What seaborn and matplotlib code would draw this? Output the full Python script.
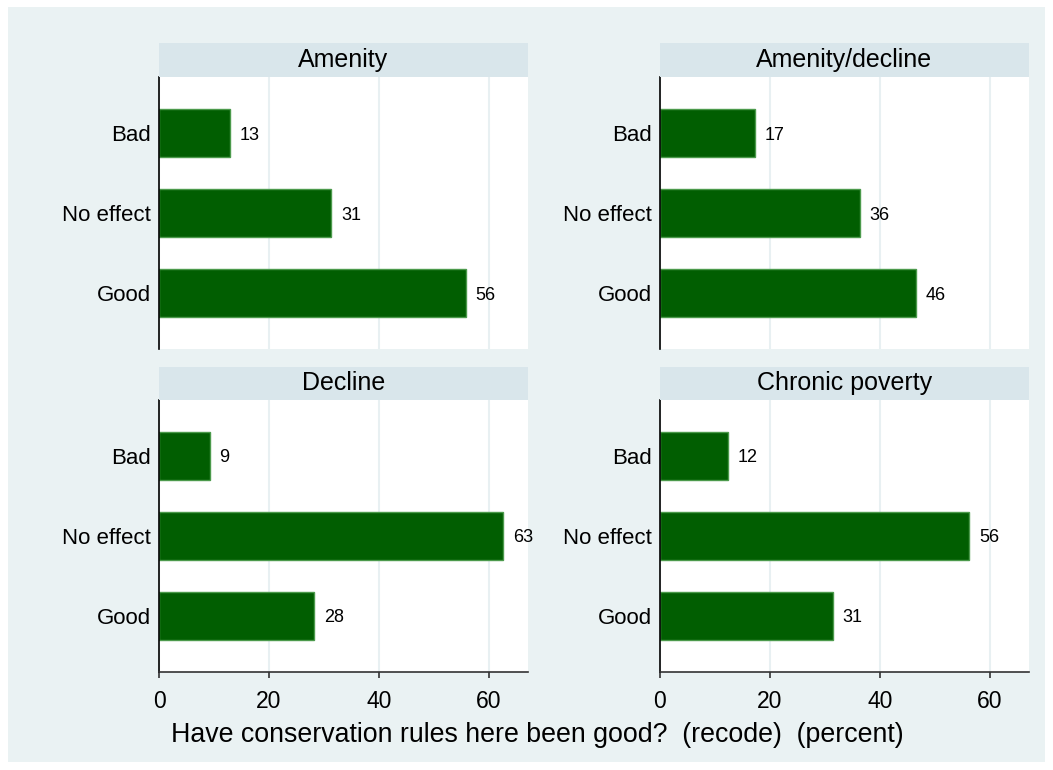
import matplotlib
matplotlib.use("Agg")
import matplotlib.pyplot as plt
import seaborn as sns
import pandas as pd
from matplotlib.patches import Rectangle

# ---- data ----
panels = ["Amenity", "Amenity/decline", "Decline", "Chronic poverty"]
responses = ["Bad", "No effect", "Good"]
amenity = [12.9, 31.3, 55.8]
amenity_decline = [17.2, 36.3, 46.5]
decline = [9.2, 62.6, 28.2]
chronic_poverty = [12.4, 56.2, 31.4]
x_ticks = [0, 20, 40, 60]
x_title = "Have conservation rules here been good?  (recode)  (percent)"

values = [amenity, amenity_decline, decline, chronic_poverty]
rows = []
for p, vals in zip(panels, values):
    for r, v in zip(responses, vals):
        rows.append({"panel": p, "response": r, "percent": v})
df = pd.DataFrame(rows)

# ---- style ----
sns.set_theme(style="white")
plt.rcParams["font.family"] = ["Liberation Sans", "DejaVu Sans"]

W, H = 1053, 770
fig = plt.figure(figsize=(W / 100, H / 100), dpi=100)
fig.patch.set_facecolor("white")
fig.patches.append(Rectangle((8 / W, 1 - 762 / H), (1045 - 8) / W, (762 - 7) / H,
                             transform=fig.transFigure, facecolor="#EAF2F3",
                             edgecolor="none", zorder=-10))

BAR = "#015E01"
EDGE = "#4C9A4C"
STRIP = "#D9E6EB"
GRID = "#E8F0F2"

col_x = [159, 660]
row_plot = [(77.3, 349.3), (400.0, 672.0)]
row_strip = [(43.3, 77.3), (366.7, 400.0)]
plot_w = 369

for i, p in enumerate(panels):
    r, c = divmod(i, 2)
    x0 = col_x[c]
    top, bot = row_plot[r]
    ax = fig.add_axes([x0 / W, 1 - bot / H, plot_w / W, (bot - top) / H])
    sub = df[df["panel"] == p]
    sns.barplot(data=sub, y="response", x="percent", orient="h", order=responses,
                color=BAR, width=0.6, ax=ax, edgecolor=EDGE, linewidth=1.0,
                saturation=1, errorbar=None)
    ax.set_facecolor("white")
    ax.set_xlim(0, plot_w / 5.5)
    ax.set_ylim(2.7, -0.7)
    ax.set_xticks(x_ticks)
    ax.grid(axis="x", color=GRID, linewidth=1.5, zorder=0)
    ax.set_axisbelow(True)
    ax.set_xlabel("")
    ax.set_ylabel("")
    for s in ["top", "right"]:
        ax.spines[s].set_visible(False)
    ax.spines["left"].set_color("black")
    ax.spines["left"].set_linewidth(1.2)
    ax.tick_params(axis="y", length=0, pad=6, labelsize=16, labelcolor="black")
    if r == 0:
        ax.spines["bottom"].set_visible(False)
        ax.tick_params(axis="x", length=0, labelbottom=False)
    else:
        ax.spines["bottom"].set_color("#333333")
        ax.spines["bottom"].set_linewidth(1.2)
        ax.tick_params(axis="x", length=4, width=1.2, color="#333333",
                       pad=9, labelsize=16.5, labelcolor="black", bottom=True)
    for cont in ax.containers:
        labels = ax.bar_label(cont, fmt="%.0f", padding=7, fontsize=13, color="black")
        for t in labels:
            t.set_va("center_baseline")

    # strip
    s_top, s_bot = row_strip[r]
    sax = fig.add_axes([x0 / W, 1 - s_bot / H, plot_w / W, (s_bot - s_top) / H])
    sax.set_facecolor(STRIP)
    for s in sax.spines.values():
        s.set_visible(False)
    sax.set_xticks([])
    sax.set_yticks([])
    sax.text(0.5, 0.5, p, ha="center", va="center", fontsize=18, color="black",
             transform=sax.transAxes)

fig.text(537 / W, 1 - 735 / H, x_title, ha="center", va="center",
         fontsize=19.3, color="black")

fig.savefig("out.png", dpi=100)
